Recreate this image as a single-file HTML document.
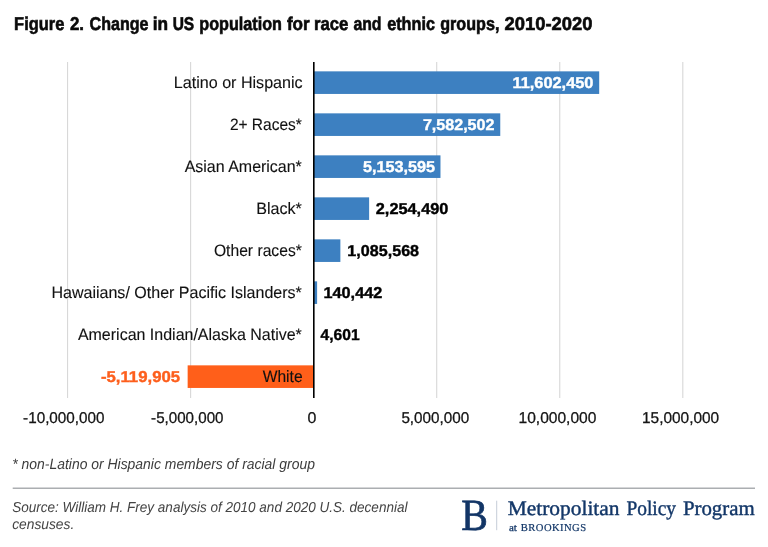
<!DOCTYPE html>
<html><head><meta charset="utf-8"><style>
html,body{margin:0;padding:0;background:#fff;}
body{width:768px;height:547px;overflow:hidden;position:relative;}
svg{position:absolute;left:0;top:0;will-change:transform;}
text{font-family:"Liberation Sans",sans-serif;text-rendering:geometricPrecision;}
</style></head><body>
<svg width="768" height="547" viewBox="0 0 768 547">
<rect x="67.00" y="62" width="1.1" height="336" fill="#d8d8d8"/>
<rect x="190.05" y="62" width="1.1" height="336" fill="#d8d8d8"/>
<rect x="436.15" y="62" width="1.1" height="336" fill="#d8d8d8"/>
<rect x="559.20" y="62" width="1.1" height="336" fill="#d8d8d8"/>
<rect x="682.25" y="62" width="1.1" height="336" fill="#d8d8d8"/>
<rect x="313.65" y="71.35" width="285.54" height="22.6" fill="#3d80c1"/>
<rect x="313.65" y="113.35" width="186.61" height="22.6" fill="#3d80c1"/>
<rect x="313.65" y="155.35" width="126.83" height="22.6" fill="#3d80c1"/>
<rect x="313.65" y="197.35" width="55.48" height="22.6" fill="#3d80c1"/>
<rect x="313.65" y="239.35" width="26.72" height="22.6" fill="#3d80c1"/>
<rect x="313.65" y="281.35" width="3.46" height="22.6" fill="#3d80c1"/>
<rect x="313.65" y="323.35" width="0.11" height="22.6" fill="#3d80c1"/>
<rect x="187.65" y="365.35" width="126.00" height="22.6" fill="#ff5f1a"/>
<rect x="313" y="62" width="1.6" height="336" fill="#000"/>
<rect x="12.7" y="487.5" width="742.3" height="1.5" fill="#abaeb1"/>
<rect x="496.2" y="500.7" width="1" height="29.5" fill="#c5cdd8"/>
<text x="14.12" y="29.8" textLength="50.18" lengthAdjust="spacingAndGlyphs" style="font-size:18.6px;font-weight:bold;" fill="#0a0a0a" stroke="#0a0a0a" stroke-width="0.6">Figure</text>
<text x="69.90" y="29.8" textLength="14.06" lengthAdjust="spacingAndGlyphs" style="font-size:18.6px;font-weight:bold;" fill="#0a0a0a" stroke="#0a0a0a" stroke-width="0.6">2.</text>
<text x="89.60" y="29.8" textLength="58.89" lengthAdjust="spacingAndGlyphs" style="font-size:18.6px;font-weight:bold;" fill="#0a0a0a" stroke="#0a0a0a" stroke-width="0.6">Change</text>
<text x="152.67" y="29.8" textLength="15.36" lengthAdjust="spacingAndGlyphs" style="font-size:18.6px;font-weight:bold;" fill="#0a0a0a" stroke="#0a0a0a" stroke-width="0.6">in</text>
<text x="172.66" y="29.8" textLength="21.57" lengthAdjust="spacingAndGlyphs" style="font-size:18.6px;font-weight:bold;" fill="#0a0a0a" stroke="#0a0a0a" stroke-width="0.6">US</text>
<text x="199.33" y="29.8" textLength="82.68" lengthAdjust="spacingAndGlyphs" style="font-size:18.6px;font-weight:bold;" fill="#0a0a0a" stroke="#0a0a0a" stroke-width="0.6">population</text>
<text x="286.90" y="29.8" textLength="22.82" lengthAdjust="spacingAndGlyphs" style="font-size:18.6px;font-weight:bold;" fill="#0a0a0a" stroke="#0a0a0a" stroke-width="0.6">for</text>
<text x="313.90" y="29.8" textLength="34.41" lengthAdjust="spacingAndGlyphs" style="font-size:18.6px;font-weight:bold;" fill="#0a0a0a" stroke="#0a0a0a" stroke-width="0.6">race</text>
<text x="353.40" y="29.8" textLength="28.10" lengthAdjust="spacingAndGlyphs" style="font-size:18.6px;font-weight:bold;" fill="#0a0a0a" stroke="#0a0a0a" stroke-width="0.6">and</text>
<text x="387.20" y="29.8" textLength="47.80" lengthAdjust="spacingAndGlyphs" style="font-size:18.6px;font-weight:bold;" fill="#0a0a0a" stroke="#0a0a0a" stroke-width="0.6">ethnic</text>
<text x="440.20" y="29.8" textLength="59.21" lengthAdjust="spacingAndGlyphs" style="font-size:18.6px;font-weight:bold;" fill="#0a0a0a" stroke="#0a0a0a" stroke-width="0.6">groups,</text>
<text x="504.60" y="29.8" textLength="87.94" lengthAdjust="spacingAndGlyphs" style="font-size:18.6px;font-weight:bold;" fill="#0a0a0a" stroke="#0a0a0a" stroke-width="0.6">2010-2020</text>
<text x="173.82" y="87.9" textLength="128.82" lengthAdjust="spacingAndGlyphs" style="font-size:16.5px;" fill="#111" stroke="#111" stroke-width="0.12">Latino or Hispanic</text>
<text x="512.46" y="88.2" textLength="81.01" lengthAdjust="spacingAndGlyphs" style="font-size:15.8px;font-weight:bold;" fill="#fff" stroke="#fff" stroke-width="0.4">11,602,450</text>
<text x="229.90" y="129.9" textLength="71.96" lengthAdjust="spacingAndGlyphs" style="font-size:16.5px;" fill="#111" stroke="#111" stroke-width="0.12">2+ Races*</text>
<text x="422.90" y="130.2" textLength="71.58" lengthAdjust="spacingAndGlyphs" style="font-size:15.8px;font-weight:bold;" fill="#fff" stroke="#fff" stroke-width="0.4">7,582,502</text>
<text x="184.70" y="171.9" textLength="117.14" lengthAdjust="spacingAndGlyphs" style="font-size:16.5px;" fill="#111" stroke="#111" stroke-width="0.12">Asian American*</text>
<text x="362.90" y="172.2" textLength="72.08" lengthAdjust="spacingAndGlyphs" style="font-size:15.8px;font-weight:bold;" fill="#fff" stroke="#fff" stroke-width="0.4">5,153,595</text>
<text x="256.22" y="213.9" textLength="45.61" lengthAdjust="spacingAndGlyphs" style="font-size:16.5px;" fill="#111" stroke="#111" stroke-width="0.12">Black*</text>
<text x="375.80" y="214.2" textLength="72.58" lengthAdjust="spacingAndGlyphs" style="font-size:15.8px;font-weight:bold;" fill="#000" stroke="#000" stroke-width="0.4">2,254,490</text>
<text x="213.90" y="255.9" textLength="87.95" lengthAdjust="spacingAndGlyphs" style="font-size:16.5px;" fill="#111" stroke="#111" stroke-width="0.12">Other races*</text>
<text x="347.38" y="256.2" textLength="71.70" lengthAdjust="spacingAndGlyphs" style="font-size:15.8px;font-weight:bold;" fill="#000" stroke="#000" stroke-width="0.4">1,085,568</text>
<text x="51.43" y="297.9" textLength="250.41" lengthAdjust="spacingAndGlyphs" style="font-size:16.5px;" fill="#111" stroke="#111" stroke-width="0.12">Hawaiians/ Other Pacific Islanders*</text>
<text x="323.47" y="298.2" textLength="58.81" lengthAdjust="spacingAndGlyphs" style="font-size:15.8px;font-weight:bold;" fill="#000" stroke="#000" stroke-width="0.4">140,442</text>
<text x="77.90" y="339.9" textLength="223.94" lengthAdjust="spacingAndGlyphs" style="font-size:16.5px;" fill="#111" stroke="#111" stroke-width="0.12">American Indian/Alaska Native*</text>
<text x="320.60" y="340.2" textLength="38.99" lengthAdjust="spacingAndGlyphs" style="font-size:15.8px;font-weight:bold;" fill="#000" stroke="#000" stroke-width="0.4">4,601</text>
<text x="262.70" y="381.9" textLength="39.87" lengthAdjust="spacingAndGlyphs" style="font-size:16.5px;" fill="#111" stroke="#111" stroke-width="0.12">White</text>
<text x="100.90" y="382.2" textLength="79.27" lengthAdjust="spacingAndGlyphs" style="font-size:15.8px;font-weight:bold;" fill="#fd5f1d" stroke="#fd5f1d" stroke-width="0.4">-5,119,905</text>
<text x="23.10" y="422.7" textLength="81.38" lengthAdjust="spacingAndGlyphs" style="font-size:15.6px;" fill="#151515" stroke="#151515" stroke-width="0.3">-10,000,000</text>
<text x="151.10" y="422.7" textLength="72.38" lengthAdjust="spacingAndGlyphs" style="font-size:15.6px;" fill="#151515" stroke="#151515" stroke-width="0.3">-5,000,000</text>
<text x="307.60" y="422.7" textLength="8.87" lengthAdjust="spacingAndGlyphs" style="font-size:15.6px;" fill="#151515" stroke="#151515" stroke-width="0.3">0</text>
<text x="401.40" y="422.7" textLength="67.78" lengthAdjust="spacingAndGlyphs" style="font-size:15.6px;" fill="#151515" stroke="#151515" stroke-width="0.3">5,000,000</text>
<text x="518.50" y="422.7" textLength="77.87" lengthAdjust="spacingAndGlyphs" style="font-size:15.6px;" fill="#151515" stroke="#151515" stroke-width="0.3">10,000,000</text>
<text x="642.01" y="422.7" textLength="77.16" lengthAdjust="spacingAndGlyphs" style="font-size:15.6px;" fill="#151515" stroke="#151515" stroke-width="0.3">15,000,000</text>
<text x="12.30" y="468.6" textLength="302.62" lengthAdjust="spacingAndGlyphs" style="font-size:15px;font-style:italic;" fill="#3c3c3c">* non-Latino or Hispanic members of racial group</text>
<text x="12.20" y="511.7" textLength="395.27" lengthAdjust="spacingAndGlyphs" style="font-size:14.5px;font-style:italic;" fill="#444">Source: William H. Frey analysis of 2010 and 2020 U.S. decennial</text>
<text x="12.20" y="528.7" textLength="62.08" lengthAdjust="spacingAndGlyphs" style="font-size:14.5px;font-style:italic;" fill="#444">censuses.</text>
<text x="461.21" y="530.4" textLength="26.60" lengthAdjust="spacingAndGlyphs" style="font-size:44.6px;font-family:'Liberation Serif',serif;" fill="#123566" stroke="#123566" stroke-width="0.7">B</text>
<text x="507.70" y="514.7" textLength="111.81" lengthAdjust="spacingAndGlyphs" style="font-size:20.6px;font-family:'Liberation Serif',serif;" fill="#133768" stroke="#133768" stroke-width="0.4">Metropolitan</text>
<text x="626.50" y="514.7" textLength="49.54" lengthAdjust="spacingAndGlyphs" style="font-size:20.6px;font-family:'Liberation Serif',serif;" fill="#133768" stroke="#133768" stroke-width="0.4">Policy</text>
<text x="682.90" y="514.7" textLength="71.82" lengthAdjust="spacingAndGlyphs" style="font-size:20.6px;font-family:'Liberation Serif',serif;" fill="#133768" stroke="#133768" stroke-width="0.4">Program</text>
<text x="508.90" y="530.5" textLength="7.92" lengthAdjust="spacingAndGlyphs" style="font-size:10.2px;font-family:'Liberation Serif',serif;" fill="#133768" stroke="#133768" stroke-width="0.3">at</text>
<text x="520.80" y="530.5" textLength="65.29" lengthAdjust="spacing" style="font-size:10.6px;font-family:'Liberation Serif',serif;" fill="#133768" stroke="#133768" stroke-width="0.2">BROOKINGS</text>
</svg>
</body></html>
